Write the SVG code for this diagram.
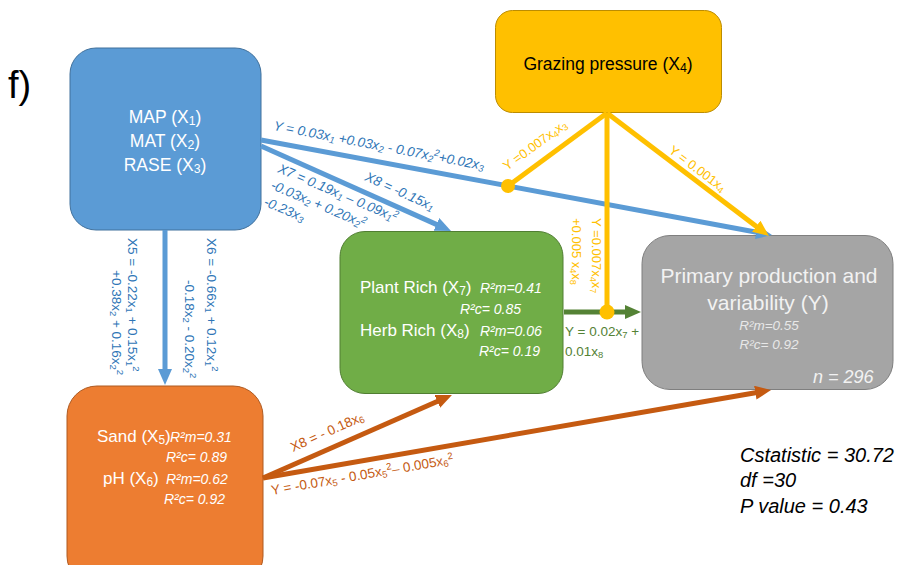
<svg xmlns="http://www.w3.org/2000/svg" width="899" height="565" viewBox="0 0 899 565">
<style>
text{font-family:"Liberation Sans",Arial,sans-serif;}
.s{font-size:70%;baseline-shift:-18%;}
.p{font-size:70%;baseline-shift:super;}
.wt{fill:#ffffff;}
.it{font-style:italic;}
.lb{fill:#2E75B6;font-size:13.5px;}
.ly{fill:#FFC000;font-size:13px;}
.lo{fill:#C55A11;font-size:13.5px;}
.lg{fill:#548235;font-size:13.5px;}
.cb{stroke:#5B9BD5;stroke-width:5;fill:none;}
.cy{stroke:#FFC000;stroke-width:5;fill:none;}
.co{stroke:#C55A11;stroke-width:5;fill:none;}
.cg{stroke:#548235;stroke-width:5;fill:none;}
</style>
<defs>
<marker id="ab" markerUnits="userSpaceOnUse" viewBox="0 0 16 14" markerWidth="16" markerHeight="14" refX="6" refY="7" orient="auto"><path d="M0,0 L16,7 L0,14 z" fill="#5B9BD5"/></marker>
<marker id="ay" markerUnits="userSpaceOnUse" viewBox="0 0 16 14" markerWidth="16" markerHeight="14" refX="6" refY="7" orient="auto"><path d="M0,0 L16,7 L0,14 z" fill="#FFC000"/></marker>
<marker id="ao" markerUnits="userSpaceOnUse" viewBox="0 0 16 14" markerWidth="16" markerHeight="14" refX="6" refY="7" orient="auto"><path d="M0,0 L16,7 L0,14 z" fill="#C55A11"/></marker>
<marker id="ag" markerUnits="userSpaceOnUse" viewBox="0 0 16 14" markerWidth="16" markerHeight="14" refX="6" refY="7" orient="auto"><path d="M0,0 L16,7 L0,14 z" fill="#548235"/></marker>
</defs>

<text x="8" y="98" font-size="38" fill="#000">f)</text>

<g id="node-climate">
<rect x="70" y="48" width="191" height="182" rx="26" fill="#5B9BD5" stroke="#41719C" stroke-width="1"/>
<text class="wt" font-size="17.5" text-anchor="middle"><tspan x="165" y="123">MAP (X<tspan class="s">1</tspan>)</tspan><tspan x="165" y="147">MAT (X<tspan class="s">2</tspan>)</tspan><tspan x="165" y="171">RASE (X<tspan class="s">3</tspan>)</tspan></text>
</g>

<g id="node-grazing">
<rect x="495.5" y="10.5" width="226" height="102" rx="17" fill="#FFC000" stroke="#BC8C00" stroke-width="1"/>
<text x="608" y="70" font-size="17.5" fill="#000" text-anchor="middle">Grazing pressure (X<tspan class="s">4</tspan>)</text>
</g>

<g id="node-richness">
<rect x="340" y="231.5" width="223" height="162" rx="25" fill="#70AD47" stroke="#507E32" stroke-width="1"/>
<text class="wt" font-size="17" x="360" y="293">Plant Rich (X<tspan class="s">7</tspan>)</text>
<text class="wt it" font-size="14" x="480" y="293">R²m=0.41</text>
<text class="wt it" font-size="14" x="460" y="314">R²c= 0.85</text>
<text class="wt" font-size="17" x="360" y="336">Herb Rich (X<tspan class="s">8</tspan>)</text>
<text class="wt it" font-size="14" x="480" y="336">R²m=0.06</text>
<text class="wt it" font-size="14" x="479" y="356">R²c= 0.19</text>
</g>

<g id="node-production">
<rect x="642" y="235.5" width="251" height="154" rx="28" fill="#A5A5A5" stroke="#7F7F7F" stroke-width="1"/>
<text x="769" y="283" font-size="21" fill="#F2F2F2" text-anchor="middle">Primary production and</text>
<text x="768" y="310" font-size="21" fill="#F2F2F2" text-anchor="middle">variability (Y)</text>
<text class="it" x="769" y="330" font-size="13.5" fill="#E8E8E8" text-anchor="middle">R²m=0.55</text>
<text class="it" x="769" y="349" font-size="13.5" fill="#E8E8E8" text-anchor="middle">R²c= 0.92</text>
<text class="it" x="813" y="383" font-size="18" fill="#F2F2F2">n = 296</text>
</g>

<g id="node-soil">
<rect x="67" y="386" width="196" height="200" rx="30" fill="#ED7D31" stroke="#AE5A21" stroke-width="1"/>
<text class="wt" font-size="17" x="97" y="442">Sand (X<tspan class="s">5</tspan>)</text>
<text class="wt it" font-size="14" x="170" y="442">R²m=0.31</text>
<text class="wt it" font-size="14" x="166" y="462">R²c= 0.89</text>
<text class="wt" font-size="17" x="103" y="484">pH (X<tspan class="s">6</tspan>)</text>
<text class="wt it" font-size="14" x="166" y="484">R²m=0.62</text>
<text class="wt it" font-size="14" x="164" y="504">R²c= 0.92</text>
</g>

<g id="connectors">
<line class="cb" x1="261" y1="140" x2="762.2" y2="233.2" marker-end="url(#ab)"/>
<line class="cb" x1="261" y1="146" x2="441.9" y2="226.9" marker-end="url(#ab)"/>
<line class="cb" x1="165" y1="230" x2="165" y2="375" marker-end="url(#ab)"/>
<line class="cg" x1="564" y1="312" x2="631" y2="312" marker-end="url(#ag)"/>
<line class="cy" x1="607" y1="113" x2="761" y2="229.9" marker-end="url(#ay)"/>
<line class="cy" x1="607" y1="113" x2="508" y2="186"/>
<line class="cy" x1="607" y1="113" x2="607" y2="312"/>
<circle cx="508" cy="186" r="7" fill="#FFC000"/>
<circle cx="607" cy="312" r="7.5" fill="#FFC000"/>
<line class="co" x1="263" y1="478" x2="442.8" y2="399" marker-end="url(#ao)"/>
<line class="co" x1="263" y1="478" x2="761.2" y2="391.7" marker-end="url(#ao)"/>

<text class="lb it" transform="translate(273,130) rotate(10.8)">Y = 0.03x<tspan class="s">1</tspan> +0.03x<tspan class="s">2</tspan> - 0.07x<tspan class="s">2</tspan><tspan class="p">2</tspan>+0.02x<tspan class="s">3</tspan></text>
<text class="lb it" transform="translate(277,172) rotate(23)"><tspan x="0" y="0">X7 = 0.19x<tspan class="s">1</tspan> – 0.09x<tspan class="s">1</tspan><tspan class="p">2</tspan></tspan><tspan x="0" y="18">-0.03x<tspan class="s">2</tspan> + 0.20x<tspan class="s">2</tspan><tspan class="p">2</tspan></tspan><tspan x="0" y="36">-0.23x<tspan class="s">3</tspan></tspan></text>
<text class="lb it" transform="translate(364,180) rotate(24.5)">X8 = -0.15x<tspan class="s">1</tspan></text>
<text class="lb" font-size="12.5" transform="translate(128,238) rotate(90)"><tspan x="0" y="0">X5 = -0.22x<tspan class="s">1</tspan> + 0.15x<tspan class="s">1</tspan><tspan class="p">2</tspan></tspan><tspan x="32" y="16">+0.38x<tspan class="s">2</tspan> + 0.16x<tspan class="s">2</tspan><tspan class="p">2</tspan></tspan></text>
<text class="lb" font-size="12.5" transform="translate(207,238) rotate(90)"><tspan x="0" y="0">X6 = -0.66x<tspan class="s">1</tspan> + 0.12x<tspan class="s">1</tspan><tspan class="p">2</tspan></tspan><tspan x="42" y="22">-0.18x<tspan class="s">2</tspan> - 0.20x<tspan class="s">2</tspan><tspan class="p">2</tspan></tspan></text>
<text class="ly" transform="translate(507,171) rotate(-36)">Y =0.007x<tspan class="s">4</tspan>x<tspan class="s">3</tspan></text>
<text class="ly" transform="translate(668,152) rotate(37)">Y = 0.001x<tspan class="s">4</tspan></text>
<text class="ly" transform="translate(592,218) rotate(90)"><tspan x="0" y="0">Y =0.007x<tspan class="s">4</tspan>x<tspan class="s">7</tspan></tspan><tspan x="0" y="20">+0.005  x<tspan class="s">4</tspan>x<tspan class="s">8</tspan></tspan></text>
<text class="lg"><tspan x="565" y="336">Y = 0.02x<tspan class="s">7</tspan> +</tspan><tspan x="565" y="356">0.01x<tspan class="s">8</tspan></tspan></text>
<text class="lo" transform="translate(293,452) rotate(-24)">X8 = - 0.18x<tspan class="s">6</tspan></text>
<text class="lo" transform="translate(272,495) rotate(-9.8)">Y = -0.07x<tspan class="s">5</tspan> - 0.05x<tspan class="s">5</tspan><tspan class="p">2</tspan>– 0.005x<tspan class="s">6</tspan><tspan class="p">2</tspan></text>
</g>

<text class="it" font-size="20" fill="#000"><tspan x="740" y="462">Cstatistic = 30.72</tspan><tspan x="740" y="487">df =30</tspan><tspan x="740" y="513">P value = 0.43</tspan></text>
</svg>
